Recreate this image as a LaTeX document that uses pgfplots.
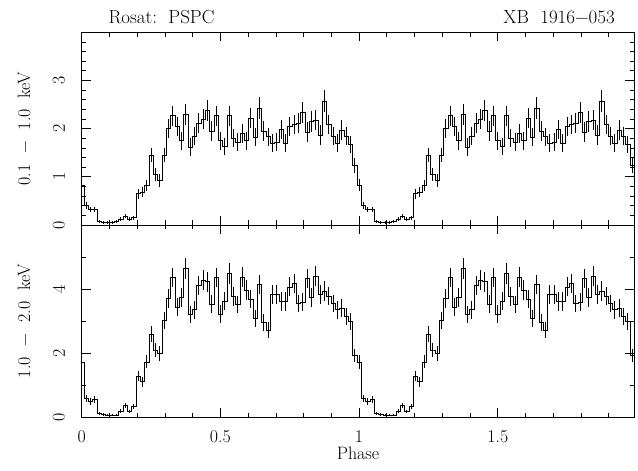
\documentclass[border=0pt]{standalone}
\usepackage{fontspec}
\usepackage{pgfplots}
\pgfplotsset{compat=1.18}
\usepackage{pgfplotstable}

\pgfplotstableread{
ph a ea b eb
0 0.83 0.12 1.72 0.22
0.015625 0.41 0.07 0.59 0.11
0.03125 0.32 0.06 0.49 0.10
0.046875 0.32 0.06 0.56 0.10
0.0625 0.07 0.03 0.12 0.05
0.078125 0.05 0.03 0.09 0.05
0.09375 0.05 0.03 0.07 0.04
0.109375 0.05 0.03 0.07 0.04
0.125 0.07 0.03 0.07 0.04
0.140625 0.12 0.04 0.20 0.06
0.15625 0.18 0.04 0.37 0.08
0.171875 0.12 0.04 0.18 0.06
0.1875 0.15 0.04 0.33 0.08
0.203125 0.65 0.10 1.29 0.17
0.21875 0.68 0.10 1.11 0.16
0.234375 0.82 0.12 1.73 0.20
0.25 1.45 0.15 2.60 0.24
0.265625 1.05 0.14 2.10 0.22
0.28125 0.92 0.13 1.99 0.22
0.296875 1.45 0.15 3.03 0.26
0.3125 2.00 0.20 3.71 0.29
0.328125 2.27 0.21 4.36 0.31
0.34375 2.05 0.20 3.43 0.28
0.359375 1.75 0.19 3.74 0.29
0.375 2.30 0.22 4.64 0.32
0.390625 1.62 0.18 3.21 0.27
0.40625 1.85 0.19 3.36 0.28
0.421875 2.12 0.21 4.12 0.30
0.4375 2.20 0.21 4.28 0.31
0.453125 2.38 0.22 4.23 0.31
0.46875 1.95 0.20 3.53 0.28
0.484375 2.27 0.21 4.36 0.31
0.5 1.75 0.19 3.22 0.27
0.515625 1.63 0.18 3.63 0.29
0.53125 2.27 0.21 4.49 0.32
0.546875 1.80 0.19 3.76 0.29
0.5625 1.72 0.19 3.52 0.28
0.578125 1.90 0.20 4.38 0.31
0.59375 1.75 0.19 3.97 0.30
0.609375 2.22 0.21 3.69 0.29
0.625 1.82 0.19 3.08 0.27
0.640625 2.43 0.22 4.14 0.30
0.65625 1.95 0.20 2.95 0.26
0.671875 1.83 0.19 2.72 0.25
0.6875 1.70 0.19 3.84 0.29
0.703125 1.72 0.19 3.84 0.29
0.71875 1.98 0.20 3.62 0.29
0.734375 1.70 0.19 3.62 0.29
0.75 2.05 0.20 4.07 0.30
0.765625 2.08 0.20 4.17 0.30
0.78125 2.12 0.21 3.55 0.28
0.796875 2.33 0.22 3.60 0.28
0.8125 1.93 0.20 4.33 0.31
0.828125 2.15 0.21 3.73 0.29
0.84375 2.18 0.21 4.41 0.31
0.859375 1.87 0.20 3.84 0.29
0.875 2.57 0.23 3.94 0.30
0.890625 2.08 0.20 3.78 0.29
0.90625 1.85 0.19 3.55 0.28
0.921875 1.70 0.19 3.36 0.28
0.9375 1.97 0.20 3.40 0.28
0.953125 1.85 0.19 3.14 0.27
0.96875 1.67 0.18 2.98 0.26
0.984375 1.23 0.16 1.92 0.21
1 0.83 0.12 1.72 0.22
1.015625 0.41 0.07 0.59 0.11
1.03125 0.32 0.06 0.49 0.10
1.046875 0.32 0.06 0.56 0.10
1.0625 0.07 0.03 0.12 0.05
1.078125 0.05 0.03 0.09 0.05
1.09375 0.05 0.03 0.07 0.04
1.109375 0.05 0.03 0.07 0.04
1.125 0.07 0.03 0.07 0.04
1.140625 0.12 0.04 0.20 0.06
1.15625 0.18 0.04 0.37 0.08
1.171875 0.12 0.04 0.18 0.06
1.1875 0.15 0.04 0.33 0.08
1.203125 0.65 0.10 1.29 0.17
1.21875 0.68 0.10 1.11 0.16
1.234375 0.82 0.12 1.73 0.20
1.25 1.45 0.15 2.60 0.24
1.265625 1.05 0.14 2.10 0.22
1.28125 0.92 0.13 1.99 0.22
1.296875 1.45 0.15 3.03 0.26
1.3125 2.00 0.20 3.71 0.29
1.328125 2.27 0.21 4.36 0.31
1.34375 2.05 0.20 3.43 0.28
1.359375 1.75 0.19 3.74 0.29
1.375 2.30 0.22 4.64 0.32
1.390625 1.62 0.18 3.21 0.27
1.40625 1.85 0.19 3.36 0.28
1.421875 2.12 0.21 4.12 0.30
1.4375 2.20 0.21 4.28 0.31
1.453125 2.38 0.22 4.23 0.31
1.46875 1.95 0.20 3.53 0.28
1.484375 2.27 0.21 4.36 0.31
1.5 1.75 0.19 3.22 0.27
1.515625 1.63 0.18 3.63 0.29
1.53125 2.27 0.21 4.49 0.32
1.546875 1.80 0.19 3.76 0.29
1.5625 1.72 0.19 3.52 0.28
1.578125 1.90 0.20 4.38 0.31
1.59375 1.75 0.19 3.97 0.30
1.609375 2.22 0.21 3.69 0.29
1.625 1.82 0.19 3.08 0.27
1.640625 2.43 0.22 4.14 0.30
1.65625 1.95 0.20 2.95 0.26
1.671875 1.83 0.19 2.72 0.25
1.6875 1.70 0.19 3.84 0.29
1.703125 1.72 0.19 3.84 0.29
1.71875 1.98 0.20 3.62 0.29
1.734375 1.70 0.19 3.62 0.29
1.75 2.05 0.20 4.07 0.30
1.765625 2.08 0.20 4.17 0.30
1.78125 2.12 0.21 3.55 0.28
1.796875 2.33 0.22 3.60 0.28
1.8125 1.93 0.20 4.33 0.31
1.828125 2.15 0.21 3.73 0.29
1.84375 2.18 0.21 4.41 0.31
1.859375 1.87 0.20 3.84 0.29
1.875 2.57 0.23 3.94 0.30
1.890625 2.08 0.20 3.78 0.29
1.90625 1.85 0.19 3.55 0.28
1.921875 1.70 0.19 3.36 0.28
1.9375 1.97 0.20 3.40 0.28
1.953125 1.85 0.19 3.14 0.27
1.96875 1.67 0.18 2.98 0.26
1.984375 1.23 0.16 1.92 0.21
1.9922 1.23 0 1.92 0
}\lc

\begin{document}
\begin{tikzpicture}
\useasboundingbox (-81.7bp,-53.7bp) rectangle (556.3bp,417.3bp);
\pgfplotsset{
  every axis/.append style={
    scale only axis, width=552.6bp, xmin=0, xmax=1.9922, clip=false,
    tick align=inside, major tick length=9bp, minor tick length=4.5bp,
    axis line style={line width=0.8bp, black},
    every tick/.style={line width=0.7bp, black},
    xtick={0,0.5,1,1.5},
    minor xtick={0.1,0.2,0.3,0.4,0.6,0.7,0.8,0.9,1.1,1.2,1.3,1.4,1.6,1.7,1.8,1.9},
    /pgf/number format/assume math mode=true,
    tick label style={font=\fontsize{18}{20}\selectfont},
    xticklabel style={inner sep=0pt, text depth=0pt, yshift=-13bp},
    yticklabel style={xshift=-16.5bp, rotate=90, anchor=south, inner sep=0pt},
    every axis y label/.style={at={(axis description cs:-0.1044,0.5)}, rotate=90, anchor=center, font=\fontsize{18}{20}\selectfont},
    every axis x label/.style={at={(axis description cs:0.5,-0.222)}, anchor=base, inner sep=0pt, font=\fontsize{18}{20}\selectfont},
  },
}
\begin{axis}[name=top, at={(0,192.3bp)}, anchor=south west, height=192.7bp,
  ymin=0, ymax=4, ytick={0,1,2,3},
  minor ytick={0.2,0.4,0.6,0.8,1.2,1.4,1.6,1.8,2.2,2.4,2.6,2.8,3.2,3.4,3.6,3.8},
  xticklabels={}, ylabel={0.1\ \ −\ \ 1.0\ \ keV}]
\addplot[const plot mark mid, black, line width=0.7bp, mark=none,
  error bars/.cd, y dir=both, y explicit, error mark=none,
  error bar style={line width=0.6bp, black}]
  table[x=ph, y=a, y error=ea] {\lc};
\end{axis}
\begin{axis}[name=bot, at={(0,0)}, anchor=south west, height=192.3bp,
  ymin=0, ymax=6, ytick={0,2,4}, minor ytick={1,3,5},
  xlabel={Phase}, ylabel={1.0\ \ −\ \ 2.0\ \ keV}]
\addplot[const plot mark mid, black, line width=0.7bp, mark=none,
  error bars/.cd, y dir=both, y explicit, error mark=none,
  error bar style={line width=0.6bp, black}]
  table[x=ph, y=b, y error=eb] {\lc};
\end{axis}
\node[anchor=base west, font=\fontsize{19}{21}\selectfont, xshift=23.3bp, yshift=8.3bp] at (top.north west) {Rosat:\ \ PSPC};
\node[anchor=base east, font=\fontsize{19}{21}\selectfont, xshift=-16bp, yshift=8.3bp] at (top.north east) {XB\ \ 1916−053};
\end{tikzpicture}
\end{document}
